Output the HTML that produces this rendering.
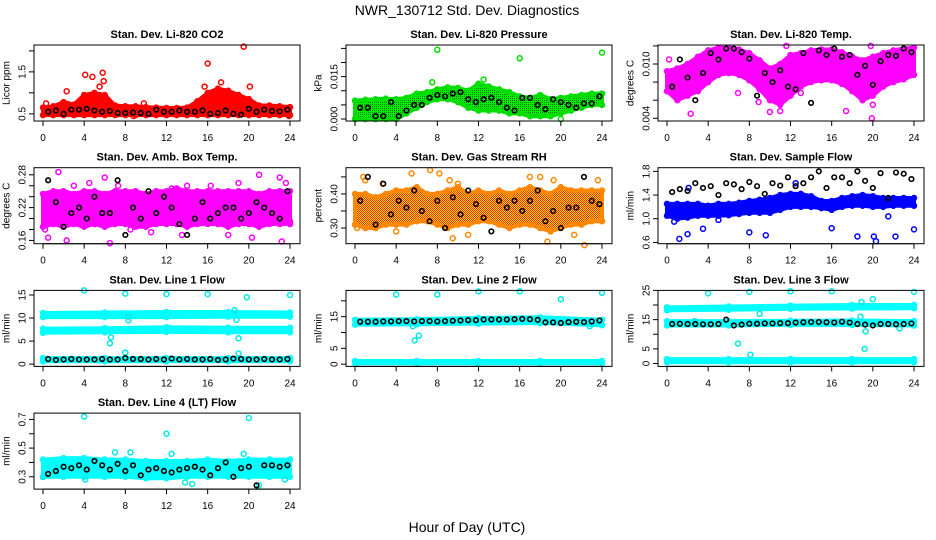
<!DOCTYPE html>
<html><head><meta charset="utf-8">
<style>
html,body{margin:0;padding:0;background:#fff;}
svg{display:block;font-family:"Liberation Sans",sans-serif;}
</style></head>
<body>
<svg id="chart" width="936" height="540" viewBox="0 0 936 540" xmlns="http://www.w3.org/2000/svg">
<defs>
<pattern id="rhPat" width="2" height="2" patternUnits="userSpaceOnUse"><rect width="2" height="2" fill="#ffe000"/><rect width="1" height="1" fill="#ff2000"/><rect x="1" y="1" width="1" height="1" fill="#ff2000"/></pattern>
<pattern id="prPat" width="2" height="2" patternUnits="userSpaceOnUse"><rect width="2" height="2" fill="#00ee00"/><rect width="1" height="1" fill="#007700"/></pattern>
</defs>
<text x="467" y="15" font-size="14" text-anchor="middle">NWR_130712  Std. Dev. Diagnostics</text>
<text x="467" y="532" font-size="14" text-anchor="middle">Hour of Day (UTC)</text>
<g id="panels"></g>
</svg>
<script>
// shared hours for black series
const blackHours = [0.5,1.25,2,2.75,3.5,4.25,5,5.75,6.5,7.25,8,8.75,9.5,10.25,11,11.75,12.5,13.25,14,14.75,15.5,16.25,17,17.75,18.5,19.25,20,20.75,21.5,22.25,23,23.75];
const xTicks = [0,4,8,12,16,20,24];

// Panel 1 CO2
const co2Lo = [0.47,0.47,0.47,0.47,0.47,0.47,0.47,0.47,0.47,0.47,0.47,0.47,0.47,0.47,0.47,0.47,0.47,0.47,0.47,0.47,0.47,0.47,0.47,0.47,0.47];
const co2Hi = [0.65,0.68,0.78,0.72,0.95,1.0,0.95,0.7,0.68,0.68,0.66,0.65,0.64,0.64,0.65,0.8,1.0,1.1,1.05,0.95,0.85,0.7,0.7,0.68,0.66];
const co2Out = [[4.1,1.43],[4.8,1.38],[5.8,1.48],[5.9,1.28],[2.3,1.04],[16,1.7],[19.5,2.1],[20.1,1.15],[15.7,1.15],[17.3,1.25],[5.5,1.15],[23.9,0.45],[8.8,0.45],[0.3,0.75],[9.8,0.75],[18.6,0.9]];
const co2Black = [0.55,0.58,0.5,0.6,0.6,0.62,0.58,0.55,0.57,0.52,0.52,0.53,0.52,0.5,0.6,0.55,0.55,0.58,0.55,0.55,0.58,0.5,0.52,0.58,0.5,0.48,0.62,0.55,0.6,0.57,0.56,0.6];
// Panel 2 Pressure
const prLo = [0,0,0,0,0,0.002,0.004,0.006,0.007,0.007,0.006,0.004,0.003,0.003,0.003,0.002,0.002,0.001,0.001,0.001,0.002,0.003,0.004,0.005,0.005];
const prHi = [0.0065,0.0068,0.007,0.0072,0.007,0.0075,0.009,0.0095,0.0105,0.0112,0.011,0.01,0.0125,0.0115,0.0105,0.0095,0.008,0.0075,0.0085,0.007,0.0075,0.008,0.0085,0.009,0.009];
const prOut = [[8,0.0245],[16,0.0215],[24,0.0235],[12.5,0.014],[7.5,0.013],[20,0],[1,0.003],[2,0.004]];
const prBlack = [0.004,0.004,0.001,0.001,0.006,0.001,0.003,0.005,0.005,0.0075,0.0085,0.008,0.009,0.0095,0.007,0.006,0.007,0.0075,0.006,0.004,0.003,0.0075,0.0075,0.005,0.0035,0.007,0.006,0.005,0.004,0.0055,0.0055,0.008];
// Panel 3 Li-820 Temp
const ltLo = [0.007,0.006,0.0065,0.007,0.008,0.0088,0.009,0.0088,0.0082,0.0072,0.006,0.0055,0.0065,0.0075,0.008,0.0082,0.0082,0.0078,0.007,0.006,0.0065,0.0075,0.008,0.0083,0.0088];
const ltHi = [0.0092,0.0095,0.0100,0.0108,0.0115,0.0118,0.0118,0.0116,0.0112,0.0104,0.0095,0.0100,0.0110,0.0112,0.0115,0.0116,0.0116,0.0113,0.0108,0.0104,0.0108,0.0112,0.0115,0.0117,0.0118];
const ltOut = [[2.3,0.0045],[10,0.0047],[11,0.0048],[17.4,0.0048],[19.9,0.0040],[20,0.0055],[11.6,0.0120],[19.8,0.0120],[6.9,0.0068],[0.2,0.0105],[8.9,0.0058],[13,0.0068]];
const ltBlack = [0.0075,0.0105,0.0085,0.006,0.009,0.0112,0.0105,0.0117,0.0117,0.0113,0.0106,0.0065,0.009,0.008,0.0093,0.0075,0.0072,0.0112,0.0057,0.0115,0.011,0.0117,0.0108,0.011,0.0088,0.0098,0.0077,0.0103,0.011,0.0109,0.0117,0.0113];
// Panel 4 Amb Box Temp
const abLo = [0.185,0.19,0.185,0.19,0.185,0.19,0.185,0.19,0.19,0.185,0.185,0.19,0.19,0.19,0.185,0.19,0.19,0.19,0.185,0.19,0.19,0.185,0.19,0.19,0.19];
const abHi = [0.245,0.25,0.25,0.245,0.25,0.25,0.245,0.25,0.25,0.25,0.245,0.25,0.25,0.255,0.25,0.25,0.25,0.25,0.25,0.25,0.25,0.245,0.25,0.25,0.25];
const abOut = [[0.2,0.18],[0.5,0.165],[1.5,0.285],[2.3,0.16],[3,0.26],[4.5,0.265],[6,0.275],[6.5,0.155],[7.3,0.26],[8.5,0.18],[10.5,0.175],[12.5,0.255],[14,0.26],[16.3,0.26],[18,0.17],[19,0.265],[20.3,0.165],[21,0.28],[23,0.275],[23.2,0.158],[23.6,0.265],[24,0.195],[13.5,0.17],[11.5,0.2]];
const abBlack = [0.27,0.23,0.185,0.21,0.22,0.2,0.24,0.21,0.21,0.27,0.17,0.22,0.2,0.25,0.21,0.24,0.22,0.19,0.17,0.2,0.23,0.2,0.21,0.22,0.22,0.2,0.21,0.23,0.22,0.21,0.2,0.25];
// Panel 5 Gas Stream RH
const rhLo = [0.31,0.3,0.3,0.31,0.31,0.31,0.32,0.32,0.31,0.3,0.31,0.31,0.32,0.32,0.31,0.3,0.31,0.31,0.3,0.29,0.3,0.31,0.31,0.32,0.32];
const rhHi = [0.4,0.4,0.39,0.4,0.41,0.41,0.42,0.4,0.4,0.41,0.42,0.4,0.41,0.4,0.41,0.4,0.41,0.42,0.41,0.4,0.42,0.41,0.41,0.41,0.41];
const rhOut = [[0.8,0.45],[1,0.44],[2.7,0.43],[4,0.29],[5.5,0.46],[7.3,0.47],[8.2,0.46],[9.2,0.44],[9.5,0.27],[10,0.43],[17,0.45],[18,0.45],[19.3,0.44],[18.7,0.26],[21.3,0.28],[22.3,0.25],[23.6,0.44],[0.2,0.3],[11,0.28]];
const rhBlack = [0.38,0.45,0.31,0.43,0.34,0.38,0.36,0.41,0.35,0.32,0.38,0.30,0.39,0.34,0.41,0.37,0.33,0.29,0.38,0.36,0.38,0.35,0.38,0.41,0.32,0.35,0.3,0.36,0.36,0.45,0.38,0.37];
// Panel 6 Sample Flow
const sfLo = [1.05,1.0,1.02,1.05,1.05,1.05,1.06,1.08,1.1,1.1,1.1,1.15,1.2,1.2,1.2,1.18,1.15,1.2,1.22,1.22,1.2,1.2,1.22,1.22,1.22];
const sfHi = [1.25,1.25,1.25,1.25,1.22,1.25,1.25,1.27,1.3,1.32,1.35,1.4,1.42,1.42,1.38,1.3,1.3,1.35,1.38,1.4,1.38,1.35,1.35,1.35,1.35];
const sfOut = [[1.2,0.66],[2,0.74],[3.5,0.83],[8,0.77],[9.6,0.72],[16,0.84],[18.5,0.7],[20.1,0.7],[20.3,0.62],[22.2,0.7],[24,0.82],[2.1,1.52],[12.5,1.6],[21.5,1.04],[0.7,0.95],[5,0.98]];
const sfBlack = [1.45,1.5,1.47,1.6,1.52,1.55,1.4,1.6,1.58,1.5,1.62,1.55,1.42,1.6,1.56,1.7,1.55,1.6,1.7,1.8,1.52,1.7,1.7,1.6,1.8,1.64,1.52,1.77,1.35,1.78,1.76,1.67];
// Panel 7 Line 1 Flow
const l1aLo = [10.2,10.2,10.2,10.3,10.3], l1aHi = [11.1,11.2,11.3,11.3,11.2];
const l1bLo = [6.8,6.9,7.0,6.9,6.9], l1bHi = [7.7,7.8,8.0,7.9,7.9];
const l1cLo = [0.6,0.6,0.6,0.6,0.6], l1cHi = [1.3,1.3,1.3,1.3,1.3];
const l1Out = [[4,16],[8,15.3],[12,15.2],[16,15.2],[19.8,14.5],[24,15],[6.5,4.5],[6.6,5.8],[8,2.5],[19,5.6],[19,2.3],[8.3,9.5],[8.3,10.3],[18.8,9.6],[18.6,11.7]];
const l1Black = [1.1,0.9,1.0,1.1,1.0,1.0,1.0,1.1,1.0,1.0,1.3,1.1,1.1,1.0,1.1,1.0,1.2,1.0,1.1,1.0,1.0,1.1,0.9,1.0,1.2,1.1,1.0,1.0,1.1,1.0,1.0,1.1];
// Panel 8 Line 2 Flow
const l2aLo = [12.5,12.6,12.8,13.0,12.3], l2aHi = [14.0,14.2,14.6,14.8,14.0];
const l2bLo = [0.3,0.3,0.3,0.3,0.3], l2bHi = [1.0,1.0,1.0,1.0,1.0];
const l2Out = [[4,22],[8,22],[12,23],[16,23],[20,20.5],[24,22.5],[5.8,7.5],[6.2,9],[22.8,12],[5.6,12]];
const l2Black = [13.4,13.4,13.4,13.5,13.5,13.6,13.6,13.5,13.6,13.6,13.5,13.6,13.7,13.8,13.9,13.9,14.1,14.1,14.1,14.1,14.2,14.3,14.2,14.0,13.2,13.2,13.0,13.3,13.4,13.3,13.5,13.8];
// Panel 9 Line 3 Flow
const l3aLo = [18.2,18.4,18.7,18.8,18.9], l3aHi = [19.2,19.5,19.8,20.0,20.0];
const l3bLo = [13.0,13.0,13.2,13.2,13.0], l3bHi = [14.5,14.5,14.6,14.7,14.5];
const l3cLo = [0.4,0.4,0.4,0.4,0.4], l3cHi = [1.5,1.5,1.5,1.5,1.5];
const l3Out = [[4,24],[8,24.5],[12,24.7],[16,24.7],[20,22],[24,24.5],[6.9,6.8],[8.1,3],[19.2,5],[19.3,11],[18.8,16],[9,17],[22.6,12],[18.9,21],[2.7,14.5]];
const l3Black = [13.5,13.6,13.5,13.5,13.4,13.4,13.5,15.0,13.0,13.3,13.6,13.6,13.7,13.7,13.8,13.8,14.0,14.1,14.2,14.2,14.1,14.0,14.3,14.0,13.5,13.3,13.0,13.5,13.5,13.4,13.5,13.7];
// Panel 10 Line 4 Flow
const l4Lo = [0.3,0.3,0.3,0.3,0.3,0.29,0.29,0.3,0.3,0.3,0.3,0.3,0.3], l4Hi = [0.42,0.43,0.43,0.42,0.42,0.41,0.41,0.41,0.42,0.41,0.42,0.42,0.42];
const l4Out = [[4,0.72],[12,0.6],[20,0.71],[21,0.24],[14.5,0.25],[7,0.47],[8.5,0.47],[12.5,0.46],[19.5,0.46],[23.5,0.28],[4.1,0.28],[13.8,0.26],[0,0.3]];
const l4Black = [0.32,0.34,0.37,0.36,0.38,0.35,0.41,0.38,0.35,0.39,0.34,0.38,0.31,0.35,0.36,0.34,0.33,0.35,0.36,0.37,0.35,0.31,0.36,0.4,0.3,0.36,0.37,0.24,0.38,0.38,0.37,0.38];

const panels = [
 {name:'co2',title:'Stan. Dev. Li-820 CO2',ylab:'Licor ppm',ymin:0.33,ymax:2.14,ticks:[0.5,1,1.5,2],labels:['0.5','','1.5',''],bands:[[co2Lo,co2Hi,'#ff0000']],out:co2Out,oc:'#ff0000',black:co2Black},
 {name:'pressure',title:'Stan. Dev. Li-820 Pressure',ylab:'kPa',ymin:-0.0007,ymax:0.0262,ticks:[0,0.005,0.01,0.015,0.02,0.025],labels:['0.000','','','0.015','',''],bands:[[prLo,prHi,'url(#prPat)']],out:prOut,oc:'#00dd00',black:prBlack},
 {name:'li820-temp',title:'Stan. Dev. Li-820 Temp.',ylab:'degrees C',ymin:0.0037,ymax:0.0121,ticks:[0.004,0.006,0.008,0.010,0.012],labels:['0.004','','','0.010',''],bands:[[ltLo,ltHi,'#ff00ff']],out:ltOut,oc:'#ff00ff',black:ltBlack},
 {name:'amb-box-temp',title:'Stan. Dev. Amb. Box Temp.',ylab:'degrees C',ymin:0.154,ymax:0.293,ticks:[0.16,0.18,0.2,0.22,0.24,0.26,0.28],labels:['0.16','','','0.22','','','0.28'],bands:[[abLo,abHi,'#ff00ff']],out:abOut,oc:'#ff00ff',black:abBlack},
 {name:'gas-stream-rh',title:'Stan. Dev. Gas Stream RH',ylab:'percent',ymin:0.254,ymax:0.477,ticks:[0.3,0.35,0.4,0.45],labels:['0.30','','0.40',''],bands:[[rhLo,rhHi,'url(#rhPat)']],out:rhOut,oc:'#ff8800',black:rhBlack},
 {name:'sample-flow',title:'Stan. Dev. Sample Flow',ylab:'ml/min',ymin:0.578,ymax:1.862,ticks:[0.6,1.0,1.4,1.8],labels:['0.6','1.0','1.4','1.8'],bands:[[sfLo,sfHi,'#0000ff']],out:sfOut,oc:'#0000ff',black:sfBlack},
 {name:'line1-flow',title:'Stan. Dev. Line 1 Flow',ylab:'ml/min',ymin:-0.5,ymax:16,ticks:[0,5,10,15],labels:['0','5','10','15'],bands:[[l1aLo,l1aHi,'#00ffff'],[l1bLo,l1bHi,'#00ffff'],[l1cLo,l1cHi,'#00ffff']],out:l1Out,oc:'#00e8e8',black:l1Black},
 {name:'line2-flow',title:'Stan. Dev. Line 2 Flow',ylab:'ml/min',ymin:-0.7,ymax:23.3,ticks:[0,5,10,15,20],labels:['0','5','','15',''],bands:[[l2aLo,l2aHi,'#00ffff'],[l2bLo,l2bHi,'#00ffff']],out:l2Out,oc:'#00e8e8',black:l2Black},
 {name:'line3-flow',title:'Stan. Dev. Line 3 Flow',ylab:'ml/min',ymin:-1,ymax:25,ticks:[0,5,10,15,20,25],labels:['0','5','','15','','25'],bands:[[l3aLo,l3aHi,'#00ffff'],[l3bLo,l3bHi,'#00ffff'],[l3cLo,l3cHi,'#00ffff']],out:l3Out,oc:'#00e8e8',black:l3Black},
 {name:'line4-flow',title:'Stan. Dev. Line 4 (LT) Flow',ylab:'ml/min',ymin:0.214,ymax:0.744,ticks:[0.3,0.4,0.5,0.6,0.7],labels:['0.3','','0.5','','0.7'],bands:[[l4Lo,l4Hi,'#00ffff']],out:l4Out,oc:'#00e8e8',black:l4Black}
];

const NS='http://www.w3.org/2000/svg';
const root=document.getElementById('panels');
function mk(tag,attrs,parent){const e=document.createElementNS(NS,tag);for(const k in attrs)e.setAttribute(k,attrs[k]);parent.appendChild(e);return e;}

panels.forEach((p,i)=>{
  const col=i%3,row=Math.floor(i/3);
  const L=34+col*312,T=45+row*122.7,W=266,H=76;
  const xs=h=>L+9+h*(247/24);
  const ys=v=>T+H-(v-p.ymin)/(p.ymax-p.ymin)*H;
  const g=mk('g',{},root);
  
  
  const t=mk('text',{x:L+W/2,y:T-7,'font-size':11,'font-weight':'bold','text-anchor':'middle'},g);
  t.textContent=p.title;
  
  
  p.bands.forEach((b,bi)=>{
    const lo=b[0],hi=b[1],n=lo.length;
    const sc=b[2].startsWith('url')?p.oc:b[2];
    let d='';
    for(let k=0;k<n;k++){d+=(k?'L':'M')+xs(k*24/(n-1)).toFixed(1)+','+ys(hi[k]).toFixed(1);}
    for(let k=n-1;k>=0;k--){d+='L'+xs(k*24/(n-1)).toFixed(1)+','+ys(lo[k]).toFixed(1);}
    const pa=mk('path',{d:d+'Z',fill:b[2],stroke:sc,'stroke-width':4,'stroke-linejoin':'round'},g);
    
    
    for(let k=0;k<n;k++){
      [lo[k],hi[k]].forEach(v=>{
        const c=mk('circle',{cx:xs(k*24/(n-1)),cy:ys(v),r:2.5,fill:'none',stroke:sc,'stroke-width':1.5},g);
        
        
      });
    }
  });
  p.out.forEach(o=>{
    const c=mk('circle',{cx:xs(o[0]),cy:ys(o[1]),r:2.5,fill:'none',stroke:p.oc,'stroke-width':1.5},g);
    
    
  });
  p.black.forEach((v,k)=>{
    const c=mk('circle',{cx:xs(blackHours[k]),cy:ys(v),r:2.3,fill:'none',stroke:'#000','stroke-width':1.6},g);
    
    
  });
  const box=mk('rect',{x:L,y:T,width:W,height:H,fill:'none',stroke:'#000','stroke-width':1},g);
  
  
  const xa=mk('g',{},g);
  
  
  mk('line',{x1:xs(0),x2:xs(24),y1:T+H,y2:T+H,stroke:'#000'},xa);
  xTicks.forEach(h=>{
    mk('line',{x1:xs(h),x2:xs(h),y1:T+H,y2:T+H+5,stroke:'#000'},xa);
    const tx=mk('text',{x:xs(h),y:T+H+20,'font-size':10,'text-anchor':'middle'},xa);
    tx.textContent=h;
  });
  const ya=mk('g',{},g);
  
  
  const vis=p.ticks.filter(v=>v>=p.ymin&&v<=p.ymax);
  mk('line',{x1:L,x2:L,y1:ys(vis[0]),y2:ys(vis[vis.length-1]),stroke:'#000'},ya);
  p.ticks.forEach((v,k)=>{
    if(v<p.ymin||v>p.ymax)return;
    mk('line',{x1:L-5,x2:L,y1:ys(v),y2:ys(v),stroke:'#000'},ya);
    if(p.labels[k]){
      const ty=mk('text',{x:L-11,y:ys(v),'font-size':10,'text-anchor':'middle',transform:'rotate(-90 '+(L-11)+' '+ys(v)+')','dominant-baseline':'middle'},ya);
      ty.textContent=p.labels[k];
    }
  });
  const yl=mk('text',{x:L-27,y:T+H/2,'font-size':10,'text-anchor':'middle',transform:'rotate(-90 '+(L-27)+' '+(T+H/2)+')','dominant-baseline':'middle'},ya);
  yl.textContent=p.ylab;
  
  
});
</script>
</body></html>
